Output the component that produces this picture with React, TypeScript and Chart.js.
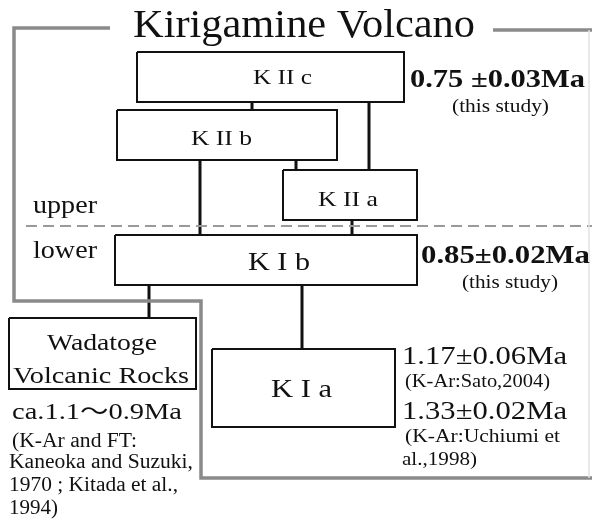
import React, { useEffect, useRef } from "react";
import { Chart, registerables } from "chart.js";

Chart.register(...registerables);

// Diagram units: x 0..592, y 0..520 (top to bottom)
const boxNames = ["KIIc", "KIIb", "KIIa", "KIb", "KIa", "Wadatoge"];
const boxX1 = [137, 117, 283, 115, 212, 9];
const boxY1 = [52, 110, 170, 235, 349, 318];
const boxX2 = [404, 337, 417, 417, 395, 196];
const boxY2 = [102, 160, 220, 285, 427, 389];

const linkX = [252, 369, 296, 200, 352, 149, 302];
const linkTop = [102, 102, 160, 160, 220, 285, 285];
const linkBottom = [110, 170, 170, 235, 235, 318, 349];

const frameX = [110, 14, 14, 201, 201, 592];
const frameY = [28, 28, 301, 301, 478, 478];
const frameTopRightX = [493, 592];
const frameTopRightY = [30, 30];
const frameRightX = [589, 589];
const frameRightY = [30, 478];

const dividerX = [26, 592];
const dividerY = [226, 226];

const textStrings = [
  "Kirigamine Volcano",
  "K II c",
  "K II b",
  "K II a",
  "K I b",
  "K I a",
  "0.75 ±0.03Ma",
  "(this study)",
  "0.85±0.02Ma",
  "(this study)",
  "upper",
  "lower",
  "Wadatoge",
  "Volcanic Rocks",
  "ca.1.1～0.9Ma",
  "(K-Ar and FT:",
  "Kaneoka and Suzuki,",
  "1970 ; Kitada et al.,",
  "1994)",
  "1.17±0.06Ma",
  "(K-Ar:Sato,2004)",
  "1.33±0.02Ma",
  "(K-Ar:Uchiumi et",
  "al.,1998)",
];
const textX1 = [133, 253, 191, 318, 248, 271, 410, 452, 421, 462, 33, 33, 47, 13, 12, 12, 9, 9, 9, 402, 405, 402, 405, 402];
const textX2 = [475, 312, 252, 378, 310, 332, 585, 549, 590, 558, 97, 97, 157, 189, 182, 137, 193, 178, 58, 567, 550, 567, 560, 477];
const textBase = [37, 84, 145, 206, 270, 397, 87, 112, 263, 288, 213, 258, 350, 383, 419, 447, 468, 491, 514, 364, 387, 419, 442, 465];
const textSize = [41, 21, 21, 21, 25, 25, 25, 18, 25, 18, 26, 26, 23, 23, 23, 20, 20, 20, 20, 26, 18, 26, 18, 18];
const textBold = [0, 0, 0, 0, 0, 0, 1, 0, 1, 0, 0, 0, 0, 0, 0, 0, 0, 0, 0, 0, 0, 0, 0, 0];

const FONT = '"Liberation Serif", "Noto Sans CJK JP", serif';

function pts(xs: number[], ys: number[]) {
  return xs.map((x, i) => ({ x, y: ys[i] }));
}

export default function App() {
  const ref = useRef<HTMLCanvasElement>(null);
  useEffect(() => {
    if (!ref.current) return;
    const base = { showLine: true, pointRadius: 0, clip: false as any, fill: false, tension: 0 };
    const datasets: any[] = [];
    datasets.push({ ...base, data: pts(frameRightX, frameRightY), borderColor: "#e4e4e4", borderWidth: 1.5 });
    datasets.push({ ...base, data: pts(frameX, frameY), borderColor: "#8a8a8a", borderWidth: 3.5, borderJoinStyle: "miter" });
    datasets.push({ ...base, data: pts(frameTopRightX, frameTopRightY), borderColor: "#8a8a8a", borderWidth: 3.5 });
    datasets.push({ ...base, data: pts(dividerX, dividerY), borderColor: "#9a9a9a", borderWidth: 2, borderDash: [11, 6] });
    boxNames.forEach((_, i) => {
      datasets.push({
        ...base,
        data: pts(
          [boxX1[i], boxX2[i], boxX2[i], boxX1[i], boxX1[i]],
          [boxY1[i], boxY1[i], boxY2[i], boxY2[i], boxY1[i]]
        ),
        borderColor: "#111",
        borderWidth: 2,
        borderJoinStyle: "miter",
        backgroundColor: "#fff",
      });
    });
    linkX.forEach((x, i) => {
      datasets.push({
        ...base,
        data: pts([x, x], [linkTop[i], linkBottom[i]]),
        borderColor: "#111",
        borderWidth: 3,
      });
    });

    const textPlugin = {
      id: "texts",
      afterDatasetsDraw(chart: any) {
        const { ctx, scales } = chart;
        const sx = scales.x;
        const sy = scales.y;
        textStrings.forEach((s, i) => {
          const px1 = sx.getPixelForValue(textX1[i]);
          const px2 = sx.getPixelForValue(textX2[i]);
          const py = sy.getPixelForValue(textBase[i]);
          const size = Math.abs(sy.getPixelForValue(textSize[i]) - sy.getPixelForValue(0));
          ctx.save();
          ctx.font = `${textBold[i] ? "bold " : ""}${size}px ${FONT}`;
          ctx.fillStyle = "#111";
          ctx.textBaseline = "alphabetic";
          ctx.textAlign = "left";
          const w = ctx.measureText(s).width;
          ctx.translate(px1, py);
          ctx.scale((px2 - px1) / w, 1);
          ctx.fillText(s, 0, 0);
          ctx.restore();
        });
      },
    };

    const chart = new Chart(ref.current, {
      type: "scatter",
      data: { datasets },
      options: {
        animation: false,
        responsive: false,
        maintainAspectRatio: false,
        layout: { padding: 0 },
        plugins: { legend: { display: false }, tooltip: { enabled: false }, title: { display: false } },
        scales: {
          x: { type: "linear", min: 0, max: 592, display: false },
          y: { type: "linear", min: 0, max: 520, reverse: true, display: false },
        },
      },
      plugins: [textPlugin],
    });
    return () => chart.destroy();
  }, []);
  return (
    <div style={{ position: "fixed", left: 0, top: 0, width: 592, height: 520, background: "#fff" }}>
      <canvas ref={ref} width={592} height={520} />
    </div>
  );
}
